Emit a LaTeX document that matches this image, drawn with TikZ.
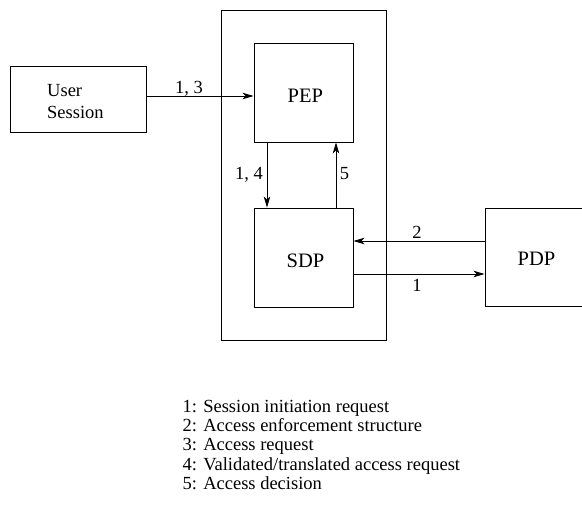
\documentclass[tikz,border=0pt]{standalone}
\usepackage{fontspec}
\setmainfont{Liberation Serif}
\usetikzlibrary{arrows.meta}
\begin{document}
\begin{tikzpicture}[x=1pt,y=-1pt,
  box/.style={draw, line width=0.9pt, minimum width=99pt, minimum height=99pt, inner sep=0pt},
  lbl/.style={inner sep=0pt, font=\fontsize{18.5}{22}\selectfont},
  boxlbl/.style={inner sep=0pt, font=\fontsize{20.5}{24}\selectfont},
  arr/.style={line width=0.9pt, -{Stealth[length=11pt,width=6.5pt,inset=3pt]}}]
\clip (0,0) rectangle (582,506);
\useasboundingbox (0,0) rectangle (582,506);
% boxes
\node[box, minimum width=165pt, minimum height=330pt] (container) at (303.5,175) {};
\node[box, minimum width=136pt, minimum height=66pt] (user) at (78,99) {};
\node[box] (pep) at (303.5,92.5) {};
\node[box] (sdp) at (303.5,257.5) {};
\node[box, minimum width=120pt, minimum height=98pt] (pdp) at (545,257) {};
% box texts
\node[lbl, anchor=base west, align=left] (usertxt) at (47,118) {User\\Session};
\node[boxlbl, anchor=base] (peptxt) at (305.3,102.3) {PEP};
\node[boxlbl, anchor=base] (sdptxt) at (305.5,267.5) {SDP};
\node[boxlbl, anchor=base] (pdptxt) at (536.5,265) {PDP};
% connectors
\draw[arr] ([yshift=3pt]user.east) -- ([yshift=3pt]user.east -| pep.west);
\draw[arr] ([xshift=-36.5pt]pep.south) -- ([xshift=-36.5pt]sdp.north);
\draw[arr] ([xshift=32.5pt]sdp.north) -- ([xshift=32.5pt]pep.south);
\draw[arr] ([yshift=16.5pt]pdp.west |- sdp.center) -- ([yshift=16.5pt]sdp.east);
\draw[arr] ([yshift=-16.5pt]sdp.east) -- ([yshift=-16.5pt]sdp.east -| pdp.west);
% connector labels
\node[lbl, anchor=base] (l13) at (189,93) {1, 3};
\node[lbl, anchor=base] (l14) at (249,179) {1, 4};
\node[lbl, anchor=base] (l5) at (344.5,179) {5};
\node[lbl, anchor=base] (l2) at (417,238) {2};
\node[lbl, anchor=base] (l1) at (417,291) {1};
% legend
\node[lbl, anchor=base west] (leg1) at (182.5,412.3) {1: Session initiation request};
\node[lbl, anchor=base west] (leg2) at (182.5,431.6) {2: Access enforcement structure};
\node[lbl, anchor=base west] (leg3) at (182.5,450.9) {3: Access request};
\node[lbl, anchor=base west] (leg4) at (182.5,470.2) {4: Validated/translated access request};
\node[lbl, anchor=base west] (leg5) at (182.5,489.5) {5: Access decision};
\end{tikzpicture}
\end{document}
